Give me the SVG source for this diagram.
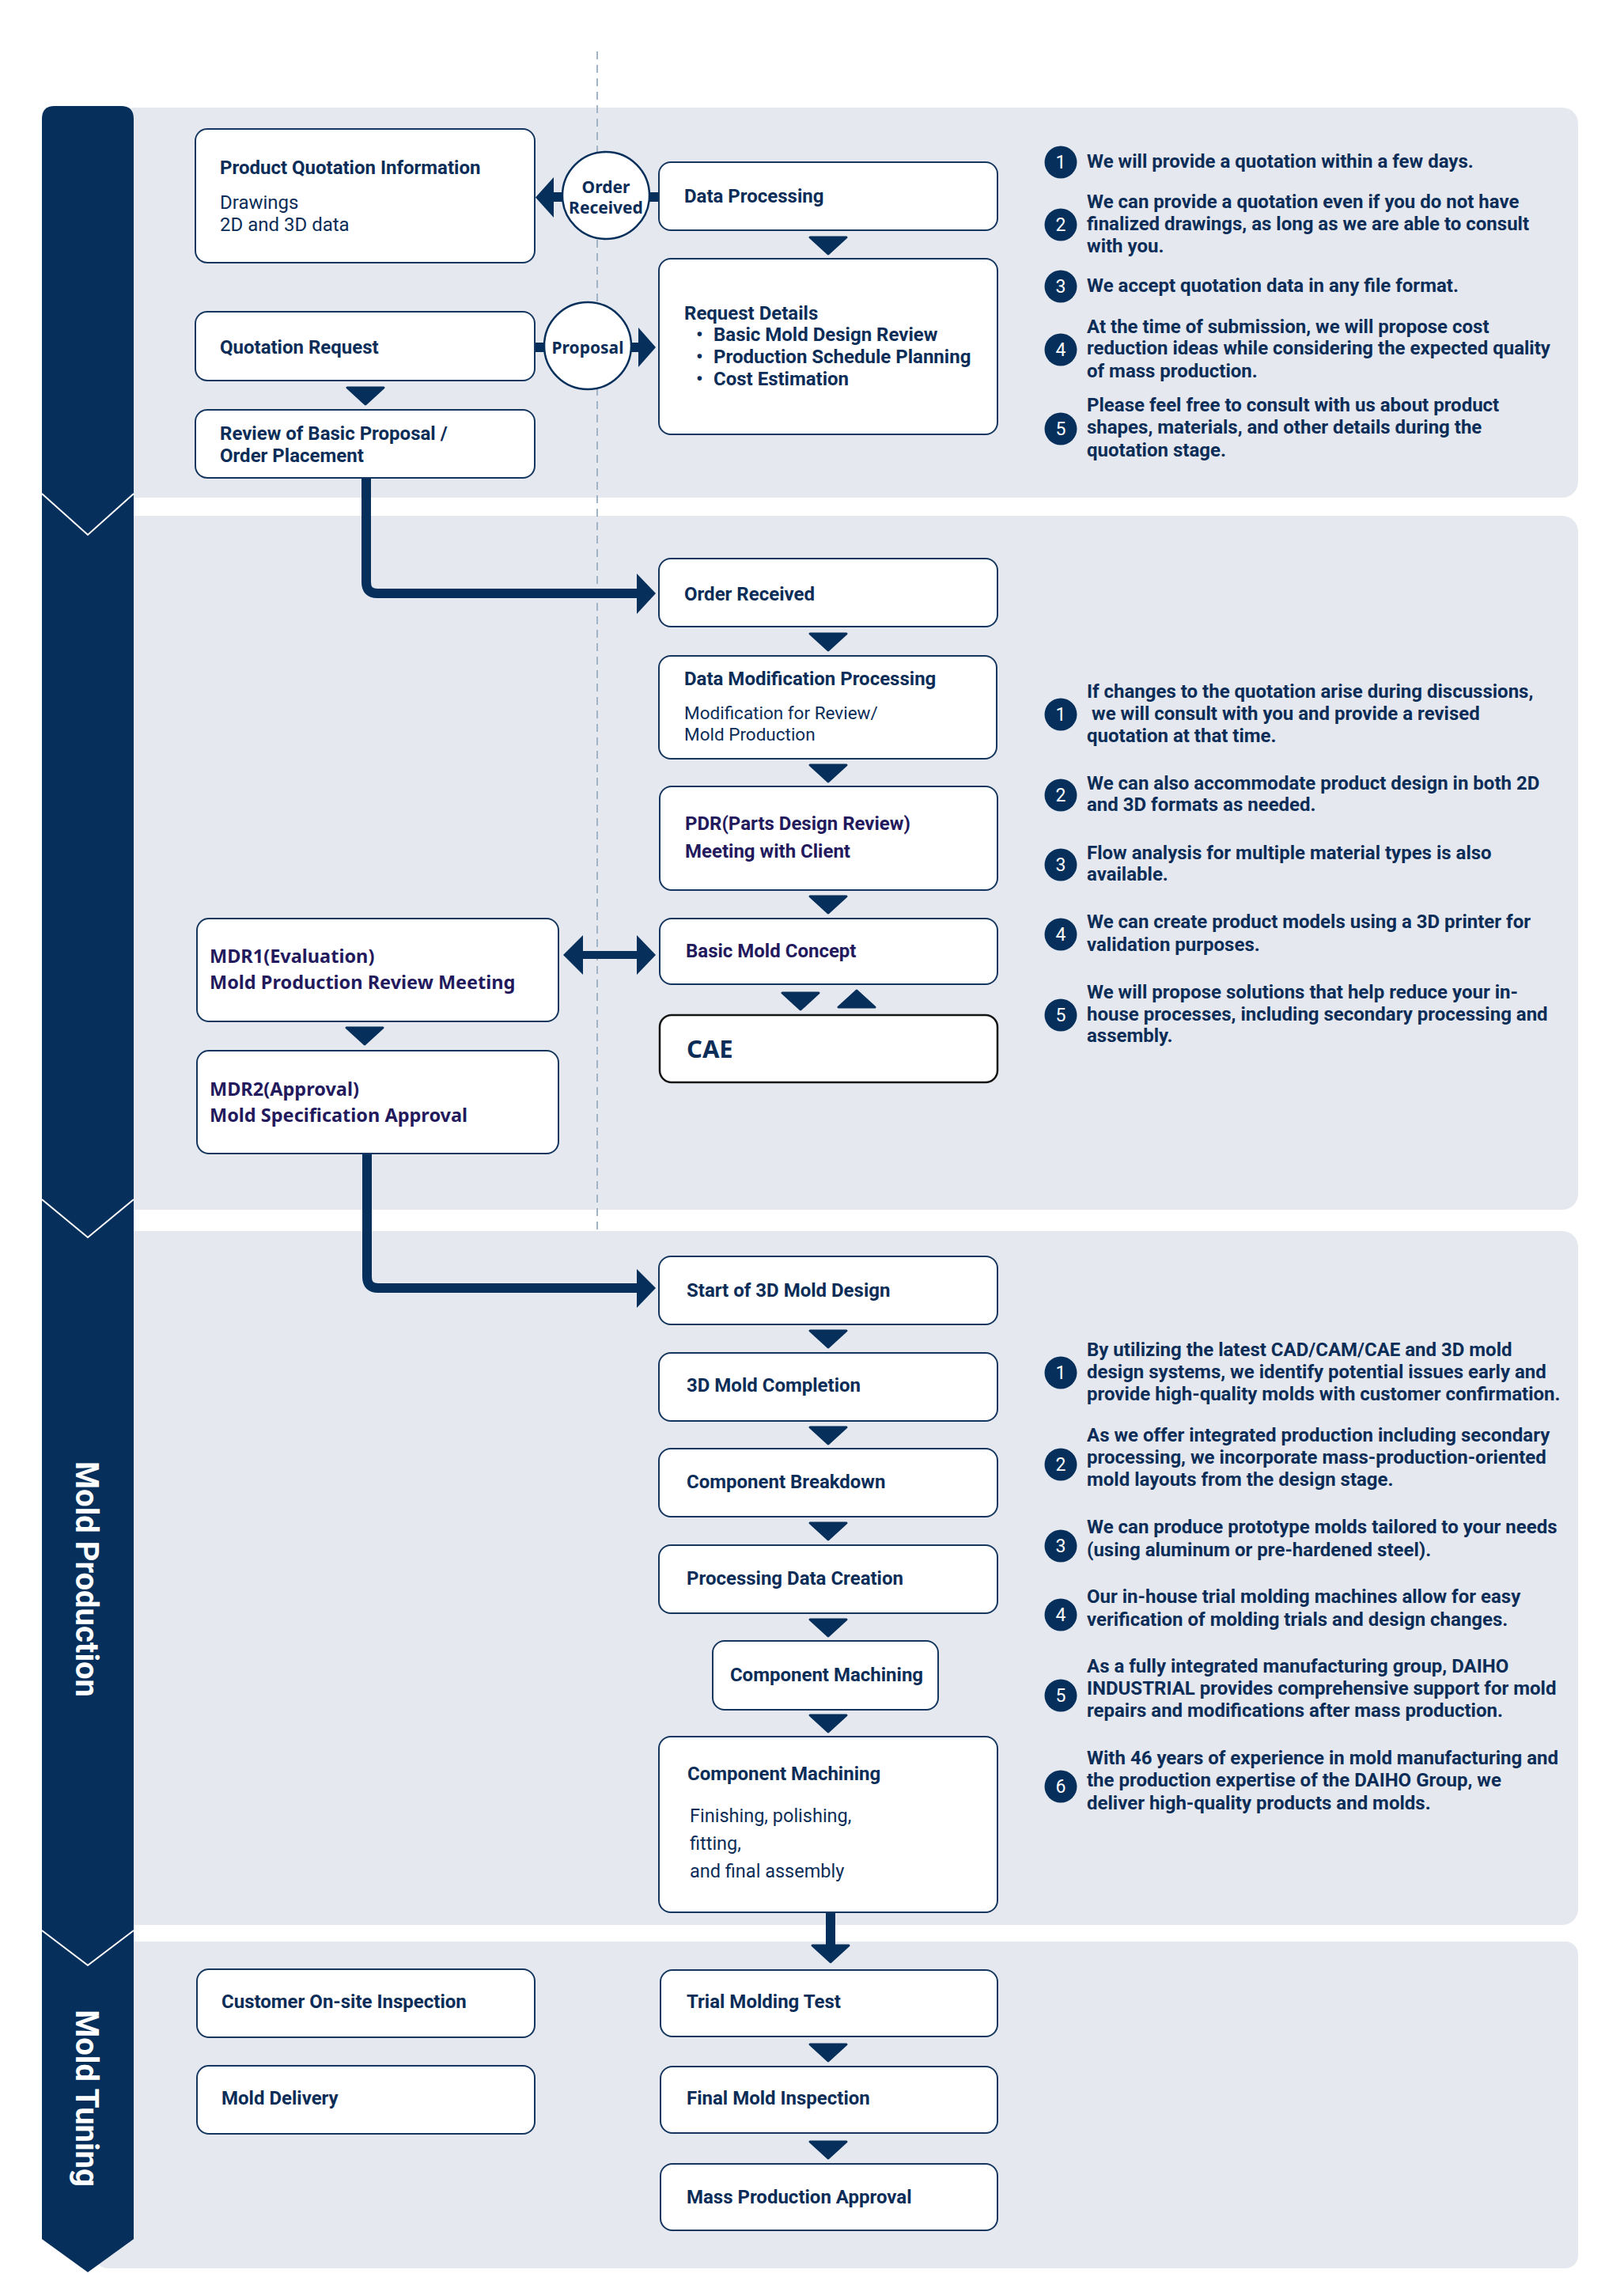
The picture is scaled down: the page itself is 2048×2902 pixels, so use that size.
<svg xmlns="http://www.w3.org/2000/svg" width="2048" height="2902" viewBox="0 0 2048 2902">
<defs>
<style>
.sec{fill:#e5e8ee}
.box{fill:#fff;stroke:#15365f;stroke-width:2}
.cae{fill:#fff;stroke:#141414;stroke-width:2.5}
.t{font-family:Roboto,"Liberation Sans",sans-serif;font-weight:700;font-size:24px;fill:#0b2d57}
.nt{font-family:"Noto Sans","Liberation Sans",sans-serif;font-weight:700;font-size:23.5px;fill:#231a5e}
.ind{fill:#231a5e}
.r{font-weight:400}
.n{font-family:Roboto,"Liberation Sans",sans-serif;font-weight:700;font-size:24px;fill:#0b2d57}
.num{fill:#06305b}
.numt{font-family:Roboto,"Liberation Sans",sans-serif;font-size:23px;fill:#fff;text-anchor:middle}
.tri{fill:#06305b;stroke:#06305b;stroke-width:3;stroke-linejoin:round}
.conn{fill:none;stroke:#06305b;stroke-width:12}
.bar{fill:#06305b}
.cir{fill:#fff;stroke:#06305b;stroke-width:2.5}
.ct{font-family:"Noto Sans","Liberation Sans",sans-serif;font-weight:700;font-size:21px;fill:#0b2d57;text-anchor:middle}
.lab{font-family:Roboto,"Liberation Sans",sans-serif;font-weight:700;font-size:40px;fill:#fff;text-anchor:middle}
.vline{fill:none;stroke:#fff;stroke-width:2}
</style>
<path id="dn" d="M-23,1 H23 L0,22 Z"/>
<path id="up" d="M-23,22 H23 L0,1 Z"/>
</defs>
<rect width="2048" height="2902" fill="#fff"/>

<g id="sections">
<rect class="sec" x="150" y="136" width="1845" height="493" rx="20"/>
<rect class="sec" x="150" y="652" width="1845" height="877" rx="20"/>
<rect class="sec" x="150" y="1556" width="1845" height="877" rx="20"/>
<rect class="sec" x="120" y="2454" width="1875" height="413" rx="16"/>
</g>

<g id="stage-bar">
<path class="bar" d="M53,150 Q53,134 69,134 H153 Q169,134 169,150 V2830 L111,2872 L53,2830 Z"/>
<polyline class="vline" points="53,624 111,676 169,624"/>
<polyline class="vline" points="53,1516 111,1564 169,1516"/>
<polyline class="vline" points="53,2440 111,2484 169,2440"/>
<text class="lab" transform="translate(96,1996) rotate(90)">Mold Production</text>
<text class="lab" transform="translate(96,2652) rotate(90)">Mold Tuning</text>
</g>

<line x1="755" y1="65" x2="755" y2="1556" stroke="#a3b3c6" stroke-width="2" stroke-dasharray="10 7"/>

<g id="connectors">
<polygon class="bar" points="677,249.5 700,224 700,275"/>
<rect class="bar" x="698" y="243" width="14" height="12"/>
<rect class="bar" x="820" y="243" width="14" height="12"/>
<rect class="bar" x="675" y="433" width="14" height="12"/>
<rect class="bar" x="796" y="433" width="12" height="12"/>
<polygon class="bar" points="829,439 807,414 807,464"/>
<path class="conn" d="M463,604 V736 Q463,750 477,750 H808"/>
<polygon class="bar" points="829,750 805,725 805,776"/>
<path class="conn" d="M464,1458 V1614 Q464,1628 478,1628 H808"/>
<polygon class="bar" points="829,1628 805,1604 805,1653"/>
<rect class="bar" x="735" y="1202" width="72" height="10"/>
<polygon class="bar" points="712,1207 737,1182 737,1232"/>
<polygon class="bar" points="829,1207 805,1182 805,1232"/>
<path class="conn" d="M1050,2417 V2460"/>
<use href="#dn" class="tri" x="1050" y="2458"/>
<use href="#dn" class="tri" x="1047" y="299"/>
<use href="#dn" class="tri" x="462" y="489"/>
<use href="#dn" class="tri" x="1047" y="800"/>
<use href="#dn" class="tri" x="1047" y="966"/>
<use href="#dn" class="tri" x="1047" y="1132"/>
<use href="#dn" class="tri" x="1012" y="1254"/>
<use href="#up" class="tri" x="1083" y="1251"/>
<use href="#dn" class="tri" x="461" y="1298"/>
<use href="#dn" class="tri" x="1047" y="1681"/>
<use href="#dn" class="tri" x="1047" y="1803"/>
<use href="#dn" class="tri" x="1047" y="1924"/>
<use href="#dn" class="tri" x="1047" y="2046"/>
<use href="#dn" class="tri" x="1047" y="2167"/>
<use href="#dn" class="tri" x="1047" y="2583"/>
<use href="#dn" class="tri" x="1047" y="2706"/>
</g>

<g id="n-product-quotation-info">
<rect class="box" x="247" y="163" width="429" height="169" rx="15"/>
<text class="t" x="278" y="220">Product Quotation Information</text>
<text class="t r" x="278" y="264">Drawings</text>
<text class="t r" x="278" y="292">2D and 3D data</text>
</g>
<g id="c-order-received">
<circle class="cir" cx="766" cy="247" r="55"/>
<text class="ct" x="766" y="244">Order</text>
<text class="ct" x="766" y="270">Received</text>
</g>
<g id="n-data-processing">
<rect class="box" x="833" y="205" width="428" height="86" rx="15"/>
<text class="t" x="865" y="256">Data Processing</text>
</g>
<g id="n-request-details">
<rect class="box" x="833" y="327" width="428" height="222" rx="15"/>
<text class="t" x="865" y="404">Request Details</text>
<text class="t" x="880" y="431">•</text><text class="t" x="902" y="431">Basic Mold Design Review</text>
<text class="t" x="880" y="459">•</text><text class="t" x="902" y="459">Production Schedule Planning</text>
<text class="t" x="880" y="487">•</text><text class="t" x="902" y="487">Cost Estimation</text>
</g>
<g id="n-quotation-request">
<rect class="box" x="247" y="394" width="429" height="87" rx="15"/>
<text class="t" x="278" y="447">Quotation Request</text>
</g>
<g id="c-proposal">
<circle class="cir" cx="743" cy="437" r="55"/>
<text class="ct" x="743" y="447">Proposal</text>
</g>
<g id="n-review">
<rect class="box" x="247" y="518" width="429" height="86" rx="15"/>
<text class="t" x="278" y="556">Review of Basic Proposal /</text>
<text class="t" x="278" y="584">Order Placement</text>
</g>

<g id="notes-1">
<circle class="num" cx="1341" cy="205" r="20.5"/><text class="numt" x="1341" y="213">1</text>
<text class="n" x="1374" y="212">We will provide a quotation within a few days.</text>
<circle class="num" cx="1341" cy="284" r="20.5"/><text class="numt" x="1341" y="292">2</text>
<text class="n" x="1374" y="263">We can provide a quotation even if you do not have</text>
<text class="n" x="1374" y="291">finalized drawings, as long as we are able to consult</text>
<text class="n" x="1374" y="319">with you.</text>
<circle class="num" cx="1341" cy="362" r="20.5"/><text class="numt" x="1341" y="370">3</text>
<text class="n" x="1374" y="369">We accept quotation data in any file format.</text>
<circle class="num" cx="1341" cy="442" r="20.5"/><text class="numt" x="1341" y="450">4</text>
<text class="n" x="1374" y="421">At the time of submission, we will propose cost</text>
<text class="n" x="1374" y="448">reduction ideas while considering the expected quality</text>
<text class="n" x="1374" y="477">of mass production.</text>
<circle class="num" cx="1341" cy="542" r="20.5"/><text class="numt" x="1341" y="550">5</text>
<text class="n" x="1374" y="520">Please feel free to consult with us about product</text>
<text class="n" x="1374" y="548">shapes, materials, and other details during the</text>
<text class="n" x="1374" y="577">quotation stage.</text>
</g>

<g id="n-order-received">
<rect class="box" x="833" y="706" width="428" height="86" rx="15"/>
<text class="t" x="865" y="759">Order Received</text>
</g>
<g id="n-data-modification">
<rect class="box" x="833" y="829" width="427" height="130" rx="15"/>
<text class="t" x="865" y="866">Data Modification Processing</text>
<text class="t r" x="865" y="909" style="font-size:22.5px">Modification for Review/</text>
<text class="t r" x="865" y="936" style="font-size:22.5px">Mold Production</text>
</g>
<g id="n-pdr">
<rect class="box" x="834" y="994" width="427" height="131" rx="15"/>
<text class="t ind" x="866" y="1049">PDR(Parts Design Review)</text>
<text class="t ind" x="866" y="1084">Meeting with Client</text>
</g>
<g id="n-basic-mold-concept">
<rect class="box" x="834" y="1161" width="427" height="83" rx="15"/>
<text class="t ind" x="867" y="1210">Basic Mold Concept</text>
</g>
<g id="n-cae">
<rect class="cae" x="834" y="1283" width="427" height="85" rx="15"/>
<text class="nt" x="868" y="1337" style="font-size:31px;fill:#0b2d57">CAE</text>
</g>
<g id="n-mdr1">
<rect class="box" x="249" y="1161" width="457" height="130" rx="15"/>
<text class="nt" x="265" y="1217">MDR1(Evaluation)</text>
<text class="nt" x="265" y="1250">Mold Production Review Meeting</text>
</g>
<g id="n-mdr2">
<rect class="box" x="249" y="1328" width="457" height="130" rx="15"/>
<text class="nt" x="265" y="1385">MDR2(Approval)</text>
<text class="nt" x="265" y="1418">Mold Specification Approval</text>
</g>

<g id="notes-2">
<circle class="num" cx="1341" cy="903" r="20.5"/><text class="numt" x="1341" y="911">1</text>
<text class="n" x="1374" y="882">If changes to the quotation arise during discussions,</text>
<text class="n" x="1380" y="910">we will consult with you and provide a revised</text>
<text class="n" x="1374" y="938">quotation at that time.</text>
<circle class="num" cx="1341" cy="1005" r="20.5"/><text class="numt" x="1341" y="1013">2</text>
<text class="n" x="1374" y="998">We can also accommodate product design in both 2D</text>
<text class="n" x="1374" y="1025">and 3D formats as needed.</text>
<circle class="num" cx="1341" cy="1093" r="20.5"/><text class="numt" x="1341" y="1101">3</text>
<text class="n" x="1374" y="1086">Flow analysis for multiple material types is also</text>
<text class="n" x="1374" y="1113">available.</text>
<circle class="num" cx="1341" cy="1181" r="20.5"/><text class="numt" x="1341" y="1189">4</text>
<text class="n" x="1374" y="1173">We can create product models using a 3D printer for</text>
<text class="n" x="1374" y="1202">validation purposes.</text>
<circle class="num" cx="1341" cy="1283" r="20.5"/><text class="numt" x="1341" y="1291">5</text>
<text class="n" x="1374" y="1262">We will propose solutions that help reduce your in-</text>
<text class="n" x="1374" y="1290">house processes, including secondary processing and</text>
<text class="n" x="1374" y="1317">assembly.</text>
</g>

<g id="n-start-3d">
<rect class="box" x="833" y="1588" width="428" height="86" rx="15"/>
<text class="t" x="868" y="1639">Start of 3D Mold Design</text>
</g>
<g id="n-3d-completion">
<rect class="box" x="833" y="1710" width="428" height="86" rx="15"/>
<text class="t" x="868" y="1759">3D Mold Completion</text>
</g>
<g id="n-component-breakdown">
<rect class="box" x="833" y="1831" width="428" height="86" rx="15"/>
<text class="t" x="868" y="1881">Component Breakdown</text>
</g>
<g id="n-processing-data">
<rect class="box" x="833" y="1953" width="428" height="86" rx="15"/>
<text class="t" x="868" y="2003">Processing Data Creation</text>
</g>
<g id="n-component-machining-1">
<rect class="box" x="901" y="2074" width="285" height="87" rx="15"/>
<text class="t" x="1045" y="2125" text-anchor="middle">Component Machining</text>
</g>
<g id="n-component-machining-2">
<rect class="box" x="833" y="2195" width="428" height="222" rx="15"/>
<text class="t" x="869" y="2250">Component Machining</text>
<text class="t r" x="872" y="2303" style="font-size:23.5px">Finishing, polishing,</text>
<text class="t r" x="872" y="2338" style="font-size:23.5px">fitting,</text>
<text class="t r" x="872" y="2373" style="font-size:23.5px">and final assembly</text>
</g>

<g id="notes-3">
<circle class="num" cx="1341" cy="1735" r="20.5"/><text class="numt" x="1341" y="1743">1</text>
<text class="n" x="1374" y="1714">By utilizing the latest CAD/CAM/CAE and 3D mold</text>
<text class="n" x="1374" y="1742">design systems, we identify potential issues early and</text>
<text class="n" x="1374" y="1770">provide high-quality molds with customer confirmation.</text>
<circle class="num" cx="1341" cy="1851" r="20.5"/><text class="numt" x="1341" y="1859">2</text>
<text class="n" x="1374" y="1822">As we offer integrated production including secondary</text>
<text class="n" x="1374" y="1850">processing, we incorporate mass-production-oriented</text>
<text class="n" x="1374" y="1878">mold layouts from the design stage.</text>
<circle class="num" cx="1341" cy="1954" r="20.5"/><text class="numt" x="1341" y="1962">3</text>
<text class="n" x="1374" y="1938">We can produce prototype molds tailored to your needs</text>
<text class="n" x="1374" y="1967">(using aluminum or pre-hardened steel).</text>
<circle class="num" cx="1341" cy="2041" r="20.5"/><text class="numt" x="1341" y="2049">4</text>
<text class="n" x="1374" y="2026">Our in-house trial molding machines allow for easy</text>
<text class="n" x="1374" y="2055">verification of molding trials and design changes.</text>
<circle class="num" cx="1341" cy="2143" r="20.5"/><text class="numt" x="1341" y="2151">5</text>
<text class="n" x="1374" y="2114">As a fully integrated manufacturing group, DAIHO</text>
<text class="n" x="1374" y="2142">INDUSTRIAL provides comprehensive support for mold</text>
<text class="n" x="1374" y="2170">repairs and modifications after mass production.</text>
<circle class="num" cx="1341" cy="2258" r="20.5"/><text class="numt" x="1341" y="2266">6</text>
<text class="n" x="1374" y="2230">With 46 years of experience in mold manufacturing and</text>
<text class="n" x="1374" y="2258">the production expertise of the DAIHO Group, we</text>
<text class="n" x="1374" y="2287">deliver high-quality products and molds.</text>
</g>

<g id="n-customer-inspection">
<rect class="box" x="249" y="2489" width="427" height="86" rx="15"/>
<text class="t" x="280" y="2538">Customer On-site Inspection</text>
</g>
<g id="n-mold-delivery">
<rect class="box" x="249" y="2611" width="427" height="86" rx="15"/>
<text class="t" x="280" y="2660">Mold Delivery</text>
</g>
<g id="n-trial-molding">
<rect class="box" x="835" y="2490" width="426" height="84" rx="15"/>
<text class="t" x="868" y="2538">Trial Molding Test</text>
</g>
<g id="n-final-inspection">
<rect class="box" x="835" y="2612" width="426" height="84" rx="15"/>
<text class="t" x="868" y="2660">Final Mold Inspection</text>
</g>
<g id="n-mass-production">
<rect class="box" x="835" y="2735" width="426" height="84" rx="15"/>
<text class="t" x="868" y="2785">Mass Production Approval</text>
</g>
</svg>
